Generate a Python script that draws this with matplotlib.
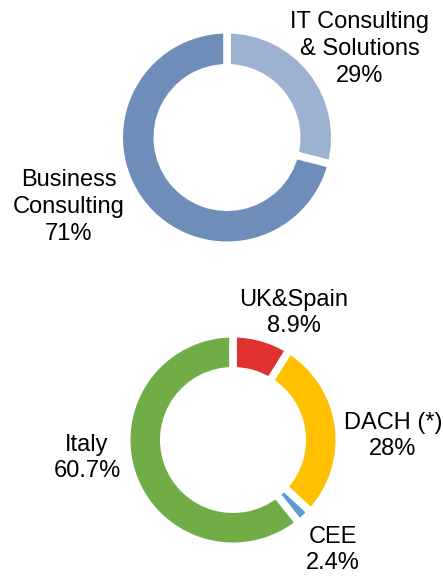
import matplotlib
matplotlib.use("Agg")
import matplotlib.pyplot as plt

plt.rcParams['font.family'] = ['Liberation Sans', 'DejaVu Sans']

# top donut: business lines
biz_labels = ["IT Consulting\n& Solutions", "Business\nConsulting"]
biz_values = [29, 71]
biz_colors = ["#9db1d0", "#6e8eb9"]

# bottom donut: regions
reg_labels = ["UK&Spain", "DACH (*)", "CEE", "Italy"]
reg_values = [8.9, 28, 2.4, 60.7]
reg_colors = ["#e03131", "#ffc000", "#5b9bd5", "#70ad47"]

W, H = 443, 577
fig = plt.figure(figsize=(W / 100, H / 100), dpi=100)
ax = fig.add_axes([0, 0, 1, 1])

lw = 5.5
edge = lw * 100 / 72 / 2  # px eaten by the white edge


def donut(values, colors, cx, cy, r_out, r_in):
    ro = r_out + edge
    ax.pie(values, colors=colors, startangle=90, counterclock=False,
           center=(cx, H - cy), radius=ro,
           wedgeprops=dict(width=ro - r_in + edge, edgecolor="white",
                           linewidth=lw))


donut(biz_values, biz_colors, 227, 137.5, 104, 73.5)
donut(reg_values, reg_colors, 233, 440, 102.5, 73)

ax.set_xlim(0, W)
ax.set_ylim(0, H)
ax.axis("off")

fs = 17
# label positions (block centres, pixels from top-left)
biz_pos = [(360, 49), (69, 207)]
reg_pos = [(294, 313), (393, 436), (333, 550), (87, 458)]

for lab, v, (x, y) in zip(biz_labels, biz_values, biz_pos):
    ax.text(x, H - y, f"{lab}\n{v:g}%", ha="center", va="center",
            fontsize=fs, linespacing=1.27)

for lab, v, (x, y) in zip(reg_labels, reg_values, reg_pos):
    ax.text(x, H - y, f"{lab}\n{v:g}%", ha="center", va="center",
            fontsize=fs, linespacing=1.27)

fig.savefig("out.png", dpi=100)
